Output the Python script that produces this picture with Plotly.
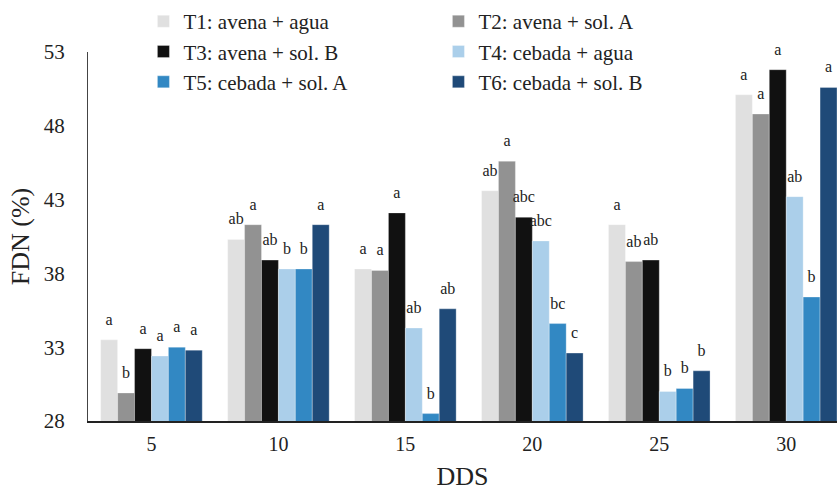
import plotly.graph_objects as go

categories = ["5", "10", "15", "20", "25", "30"]
series_names = [
    "T1: avena + agua",
    "T2: avena + sol. A",
    "T3: avena + sol. B",
    "T4: cebada + agua",
    "T5: cebada + sol. A",
    "T6: cebada + sol. B",
]
t1 = [33.5, 40.3, 38.3, 43.6, 41.3, 50.1]
t2 = [29.9, 41.3, 38.2, 45.6, 38.8, 48.8]
t3 = [32.9, 38.9, 42.1, 41.8, 38.9, 51.8]
t4 = [32.4, 38.3, 34.3, 40.2, 30.0, 43.2]
t5 = [33.0, 38.3, 28.5, 34.6, 30.2, 36.4]
t6 = [32.8, 41.3, 35.6, 32.6, 31.4, 50.6]
letters_t1 = ["a", "ab", "a", "ab", "a", "a"]
letters_t2 = ["b", "a", "a", "a", "ab", "a"]
letters_t3 = ["a", "ab", "a", "abc", "ab", "a"]
letters_t4 = ["a", "b", "ab", "abc", "b", "ab"]
letters_t5 = ["a", "b", "b", "bc", "b", "b"]
letters_t6 = ["a", "a", "ab", "c", "b", "a"]
y_ticks = [28, 33, 38, 43, 48, 53]

values = [t1, t2, t3, t4, t5, t6]
letters = [letters_t1, letters_t2, letters_t3, letters_t4, letters_t5, letters_t6]
colors = ["#e0e0e0", "#929292", "#111111", "#abcfea", "#3288c3", "#1f4a78"]

FONT = "Liberation Serif"
LABEL_LIFT = 0.75  # label gap above bar, in FDN units

fig = go.Figure()
for i, (name, vals, col) in enumerate(zip(series_names, values, colors)):
    fig.add_trace(go.Bar(
        x=categories, y=vals, name=name, offsetgroup=str(i),
        marker=dict(color=col, line=dict(color="rgba(255,255,255,0.6)", width=0.5)),
    ))
for i, (vals, labs) in enumerate(zip(values, letters)):
    fig.add_trace(go.Scatter(
        x=categories, y=[v + LABEL_LIFT for v in vals], mode="text",
        text=labs, textposition="top center", offsetgroup=str(i),
        showlegend=False, cliponaxis=False, hoverinfo="skip",
        textfont=dict(family=FONT, size=16, color="#222222"),
    ))

fig.update_layout(
    width=837, height=491,
    margin=dict(l=88, r=0, t=52, b=70, autoexpand=False),
    paper_bgcolor="white", plot_bgcolor="white",
    barmode="group", bargap=0.2, bargroupgap=0,
    scattermode="group", scattergap=0.2,
    font=dict(family=FONT, color="#222222"),
    showlegend=True,
    legend=dict(
        orientation="h", xref="paper", yref="paper",
        x=0.074, y=1.138, xanchor="left", yanchor="top",
        entrywidth=250, font=dict(family=FONT, size=21, color="#222222"),
        traceorder="normal", itemclick=False, bgcolor="rgba(0,0,0,0)",
    ),
)
fig.update_xaxes(
    type="category", range=[-0.5, 5.4],
    showline=True, linecolor="#222222", linewidth=1.5,
    ticks="outside", ticklen=4, tickcolor="rgba(0,0,0,0)",
    tickfont=dict(family=FONT, size=20, color="#222222"),
    title=dict(text="DDS", font=dict(family=FONT, size=26, color="#222222"), standoff=18),
)
fig.update_yaxes(
    range=[28, 53], tickvals=y_ticks, showgrid=False, zeroline=False,
    showline=True, linecolor="#444444", linewidth=1,
    ticks="outside", ticklen=18, tickcolor="rgba(0,0,0,0)",
    tickfont=dict(family=FONT, size=21, color="#222222"),
    title=dict(text="FDN (%)", font=dict(family=FONT, size=26, color="#222222"), standoff=6),
)

fig.write_html(
    "out.html",
    config={"displayModeBar": False},
    post_script="document.body.style.margin='0';document.body.style.overflow='hidden';",
)
